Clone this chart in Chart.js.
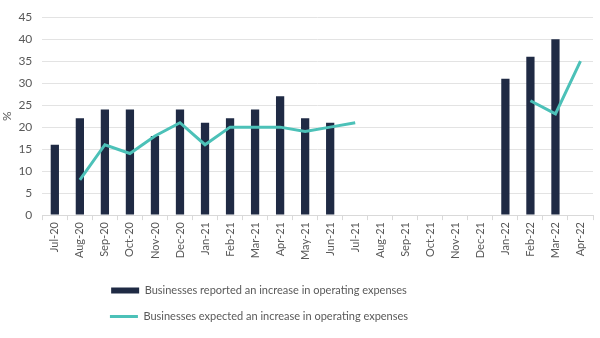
<!DOCTYPE html>
<html>
<head>
<meta charset="utf-8">
<script src="https://cdn.jsdelivr.net/npm/chart.js@4.4.1/dist/chart.umd.min.js"></script>
<style>
  html, body { margin: 0; padding: 0; background: #fff; }
  #wrap { width: 600px; height: 338px; }
</style>
</head>
<body>
<div id="wrap"><canvas id="opexChart"></canvas></div>
<script>
// Monthly survey: share of businesses reporting / expecting higher operating expenses
const months = ['Jul-20', 'Aug-20', 'Sep-20', 'Oct-20', 'Nov-20', 'Dec-20', 'Jan-21', 'Feb-21',
  'Mar-21', 'Apr-21', 'May-21', 'Jun-21', 'Jul-21', 'Aug-21', 'Sep-21', 'Oct-21', 'Nov-21',
  'Dec-21', 'Jan-22', 'Feb-22', 'Mar-22', 'Apr-22'];
const reported = [16, 22, 24, 24, 18, 24, 21, 22, 24, 27, 22, 21, null, null, null, null, null,
  null, 31, 36, 40, null];
const expected = [null, 8, 16, 14, 18, 21, 16, 20, 20, 20, 19, 20, 21, null, null, null, null,
  null, null, 26, 23, 35];
const yTicks = [0, 5, 10, 15, 20, 25, 30, 35, 40, 45];

const grey = '#595959';
const family = 'Lato, "Open Sans", sans-serif';

// legend block sits a little left of centre
const legendShift = {
  id: 'legendShift',
  afterLayout(chart) {
    chart.legend.right -= 75;
  }
};

const ctx = document.getElementById('opexChart').getContext('2d');
new Chart(ctx, {
  type: 'bar',
  data: {
    labels: months,
    datasets: [{
      label: 'Businesses reported an increase in operating expenses',
      data: reported,
      backgroundColor: '#1f2a44',
      pointStyle: 'rect',
      barPercentage: 0.33,
      categoryPercentage: 1,
      order: 1
    }, {
      type: 'line',
      label: 'Businesses expected an increase in operating expenses',
      data: expected,
      borderColor: '#4cc1b8',
      backgroundColor: '#4cc1b8',
      borderWidth: 3,
      pointRadius: 0,
      pointStyle: 'line',
      tension: 0,
      spanGaps: false,
      order: 0
    }]
  },
  options: {
    responsive: true,
    maintainAspectRatio: false,
    animation: false,
    layout: { padding: { left: 0, right: 7, top: 15, bottom: 6 } },
    plugins: {
      tooltip: { enabled: false },
      legend: {
        position: 'bottom',
        labels: {
          color: grey,
          font: { family: family, size: 11 },
          usePointStyle: true,
          pointStyleWidth: 28,
          boxHeight: 6,
          padding: 15,
          sort: (a, b) => a.datasetIndex - b.datasetIndex
        }
      }
    },
    scales: {
      x: {
        afterFit: axis => { axis.height += 8; },
        grid: {
          drawOnChartArea: false,
          drawTicks: true,
          tickLength: 5,
          color: '#d9d9d9'
        },
        border: { color: '#d9d9d9' },
        ticks: {
          color: grey,
          font: { family: family, size: 11 },
          minRotation: 90,
          maxRotation: 90,
          autoSkip: false,
          padding: 2
        }
      },
      y: {
        min: 0,
        max: 45,
        afterBuildTicks: axis => { axis.ticks = yTicks.map(v => ({ value: v })); },
        afterFit: axis => { axis.width -= 6; },
        grid: { color: '#e3e3e3', drawTicks: false },
        border: { display: false },
        ticks: { color: grey, font: { family: family, size: 12 }, padding: 10 },
        title: { display: true, text: '%', color: grey, font: { family: family, size: 12 }, padding: 0 }
      }
    }
  },
  plugins: [legendShift]
});
</script>
</body>
</html>
